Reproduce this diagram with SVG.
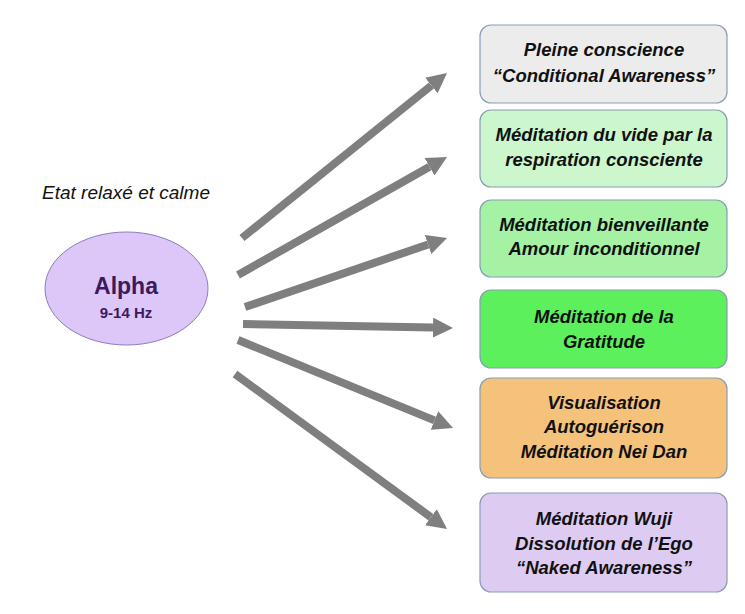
<svg xmlns="http://www.w3.org/2000/svg" width="745" height="614" viewBox="0 0 745 614">
<style>
.box{stroke:#8a9cb4;stroke-width:1.2}
.bt{font-family:"Liberation Sans",Arial,sans-serif;font-size:18.5px;font-weight:bold;font-style:italic;fill:#111;text-anchor:middle}
.conn line{stroke:#7f7f7f;stroke-width:8;marker-end:url(#ah)}
</style>
<defs>
<marker id="ah" markerUnits="userSpaceOnUse" markerWidth="20" markerHeight="20" refX="0" refY="10" orient="auto">
<path d="M0,0 L20,10 L0,20 z" fill="#7f7f7f"/>
</marker>
</defs>
<rect width="745" height="614" fill="#ffffff"/>
<text x="126" y="199" font-family="Liberation Sans,Arial,sans-serif" font-size="19" font-style="italic" fill="#111" text-anchor="middle">Etat relaxé et calme</text>
<g id="alpha">
<ellipse cx="126.5" cy="288.5" rx="81.5" ry="56.5" fill="#dcc7f8" stroke="#8a7dbd" stroke-width="1"/>
<text x="126" y="294" font-family="Liberation Sans,Arial,sans-serif" font-size="23" font-weight="bold" fill="#3b1a5c" text-anchor="middle">Alpha</text>
<text x="126" y="318" font-family="Liberation Sans,Arial,sans-serif" font-size="15" font-weight="bold" fill="#3b1a5c" text-anchor="middle">9-14 Hz</text>
</g>
<g id="connectors" class="conn">
<line x1="242" y1="238" x2="431.4" y2="85.5"/>
<line x1="238" y1="275" x2="429.6" y2="166.8"/>
<line x1="245" y1="307" x2="428.1" y2="244.5"/>
<line x1="243" y1="324" x2="433" y2="327.6"/>
<line x1="238" y1="340" x2="434.5" y2="420.4"/>
<line x1="235" y1="374" x2="430.9" y2="517.2"/>
</g>
<g id="box1">
<rect class="box" x="480" y="25" width="247" height="78" rx="11" fill="#ececec"/>
<text class="bt" x="604" y="56">Pleine conscience</text>
<text class="bt" x="604" y="82">“Conditional Awareness”</text>
</g>
<g id="box2">
<rect class="box" x="480" y="110" width="247" height="77" rx="11" fill="#ccf6cc"/>
<text class="bt" x="604" y="141">Méditation du vide par la</text>
<text class="bt" x="604" y="166">respiration consciente</text>
</g>
<g id="box3">
<rect class="box" x="480" y="200" width="247" height="77" rx="11" fill="#a5f2a5"/>
<text class="bt" x="604" y="231">Méditation bienveillante</text>
<text class="bt" x="604" y="255">Amour inconditionnel</text>
</g>
<g id="box4">
<rect class="box" x="480" y="290" width="247" height="78" rx="11" fill="#5cf05c"/>
<text class="bt" x="604" y="323">Méditation de la</text>
<text class="bt" x="604" y="348">Gratitude</text>
</g>
<g id="box5">
<rect class="box" x="480" y="378" width="247" height="100" rx="11" fill="#f5c27c"/>
<text class="bt" x="604" y="409">Visualisation</text>
<text class="bt" x="604" y="433">Autoguérison</text>
<text class="bt" x="604" y="458">Méditation Nei Dan</text>
</g>
<g id="box6">
<rect class="box" x="480" y="493" width="247" height="99" rx="11" fill="#decbf2"/>
<text class="bt" x="604" y="525">Méditation Wuji</text>
<text class="bt" x="604" y="550">Dissolution de l’Ego</text>
<text class="bt" x="604" y="574">“Naked Awareness”</text>
</g>
</svg>
